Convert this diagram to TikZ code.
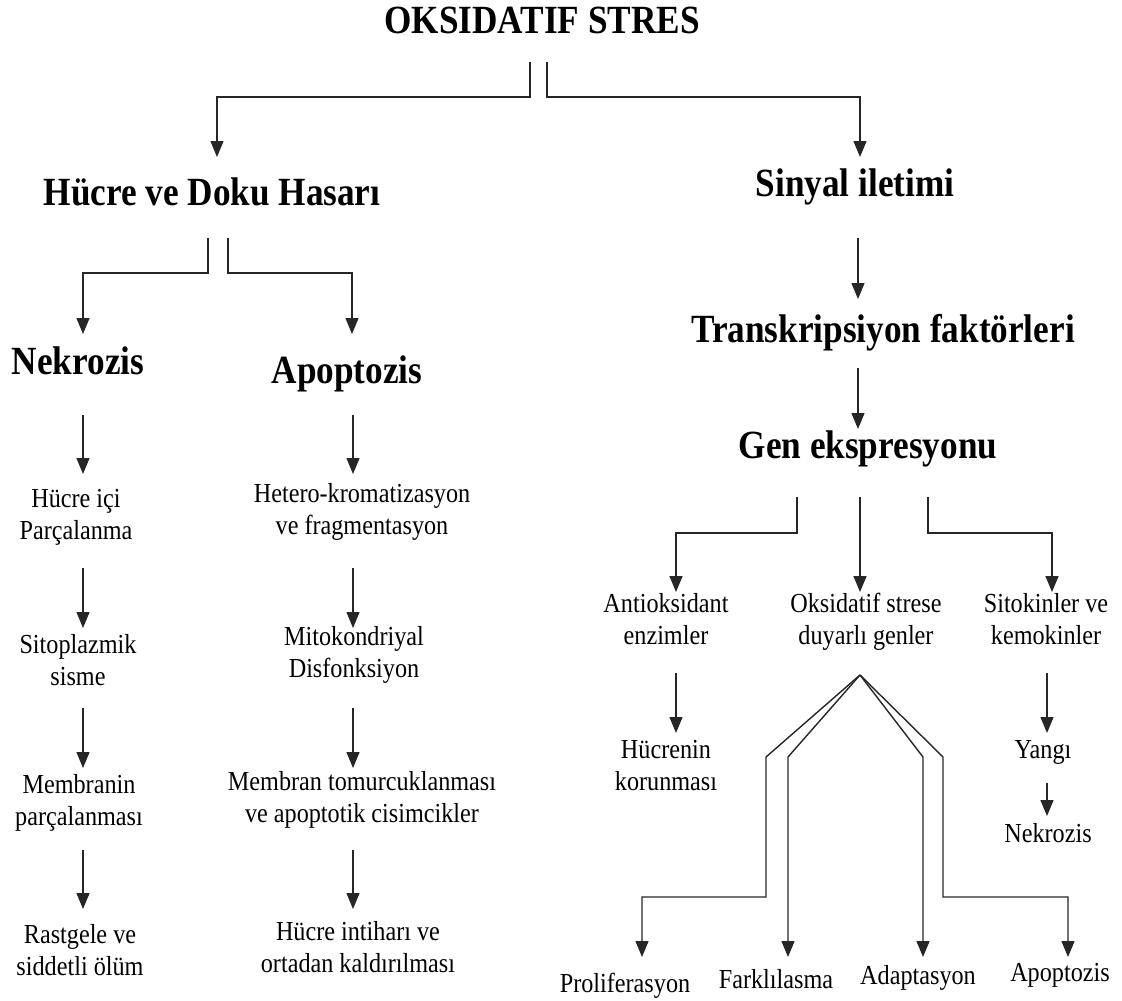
\documentclass[tikz,border=0pt]{standalone}
\usepackage{fontspec}
\setmainfont{Liberation Serif}[FakeStretch=0.88]
\usetikzlibrary{arrows.meta}
\begin{document}
\begin{tikzpicture}[x=1pt,y=-1pt,
  conn/.style={line width=1.4pt, draw=black!85, line join=miter},
  arr/.style={conn, -{Triangle[length=16pt,width=13pt]}},
  head/.style={anchor=base, inner sep=0pt, font=\fontsize{40}{46}\selectfont\bfseries},
  lbl/.style={anchor=base, inner sep=0pt, align=center, font=\fontsize{27.5}{32}\selectfont},
]
\useasboundingbox (0,0) rectangle (1122,1001);

% headings
\node[head] (title) at (542,34) {OKSIDATIF STRES};
\node[head] (hasar) at (212,205) {Hücre ve Doku Hasarı};
\node[head] (sinyal) at (855,196) {Sinyal iletimi};
\node[head] (nekro) at (78,374) {Nekrozis};
\node[head] (apop) at (347,383) {Apoptozis};
\node[head] (trans) at (883,342) {Transkripsiyon faktörleri};
\node[head] (gen) at (868,458) {Gen ekspresyonu};

% left column (anchor base = last line baseline)
\node[lbl] (hi) at (76,539) {Hücre içi\\Parçalanma};
\node[lbl] (sis) at (78,685) {Sitoplazmik\\sisme};
\node[lbl] (mem) at (79,825) {Membranin\\parçalanması};
\node[lbl] (ras) at (80,975) {Rastgele ve\\siddetli ölüm};

% apoptozis column
\node[lbl] (het) at (362,534) {Hetero-kromatizasyon\\ve fragmentasyon};
\node[lbl] (mit) at (354,677) {Mitokondriyal\\Disfonksiyon};
\node[lbl] (mtom) at (362,822) {Membran tomurcuklanması\\ve apoptotik cisimcikler};
\node[lbl] (hint) at (358,972) {Hücre intiharı ve\\ortadan kaldırılması};

% right side
\node[lbl] (ant) at (666,644) {Antioksidant\\enzimler};
\node[lbl] (oks) at (866,644) {Oksidatif strese\\duyarlı genler};
\node[lbl] (sit) at (1046,644) {Sitokinler ve\\kemokinler};
\node[lbl] (hkor) at (666,790) {Hücrenin\\korunması};
\node[lbl] (yangi) at (1043,758) {Yangı};
\node[lbl] (nek2) at (1048,842) {Nekrozis};
\node[lbl] (prol) at (625,992) {Proliferasyon};
\node[lbl] (fark) at (776,988) {Farklılasma};
\node[lbl] (adap) at (918,984) {Adaptasyon};
\node[lbl] (apo2) at (1060,981) {Apoptozis};

% connectors: title
\coordinate (t1) at (530,62); \coordinate (t1e) at (217,157);
\coordinate (t2) at (547,62); \coordinate (t2e) at (860,157);
\draw[arr] (t1) -- (530,97) -| (t1e);
\draw[arr] (t2) -- (547,97) -| (t2e);

% hasar
\coordinate (h1) at (208,238); \coordinate (h1e) at (83,334);
\coordinate (h2) at (228,238); \coordinate (h2e) at (352,334);
\draw[arr] (h1) -- (208,273) -| (h1e);
\draw[arr] (h2) -- (228,273) -| (h2e);

% sinyal chain
\coordinate (s1) at (858,238); \coordinate (s1e) at (858,299);
\coordinate (s2) at (858,368); \coordinate (s2e) at (858,429);
\draw[arr] (s1) -- (s1e);
\draw[arr] (s2) -- (s2e);

% left column arrows
\foreach \a/\b in {415/474,568/628,708/768,850/909}{
  \draw[arr] (83,\a) -- (83,\b);
  \draw[arr] (353,\a) -- (353,\b);
}

% gen branching
\coordinate (g1) at (797,497); \coordinate (g1e) at (676,592);
\coordinate (g2) at (860,497); \coordinate (g2e) at (860,592);
\coordinate (g3) at (928,497); \coordinate (g3e) at (1052,592);
\draw[arr] (g1) -- (797,533) -| (g1e);
\draw[arr] (g2) -- (g2e);
\draw[arr] (g3) -- (928,533) -| (g3e);

% sub arrows
\draw[arr] (676,673) -- (676,733);
\draw[arr] (1047,673) -- (1047,733);
\draw[arr] (1047,783) -- (1047,816);

% bottom fan
\coordinate (apex) at (860,675);
\draw[arr] (apex) -- (766,757) -- (766,897) -- (642,897) -- (642,957);
\draw[arr] (apex) -- (788,757) -- (788,957);
\draw[arr] (apex) -- (923,757) -- (923,957);
\draw[arr] (apex) -- (943,757) -- (943,897) -- (1068,897) -- (1068,957);
\end{tikzpicture}
\end{document}
